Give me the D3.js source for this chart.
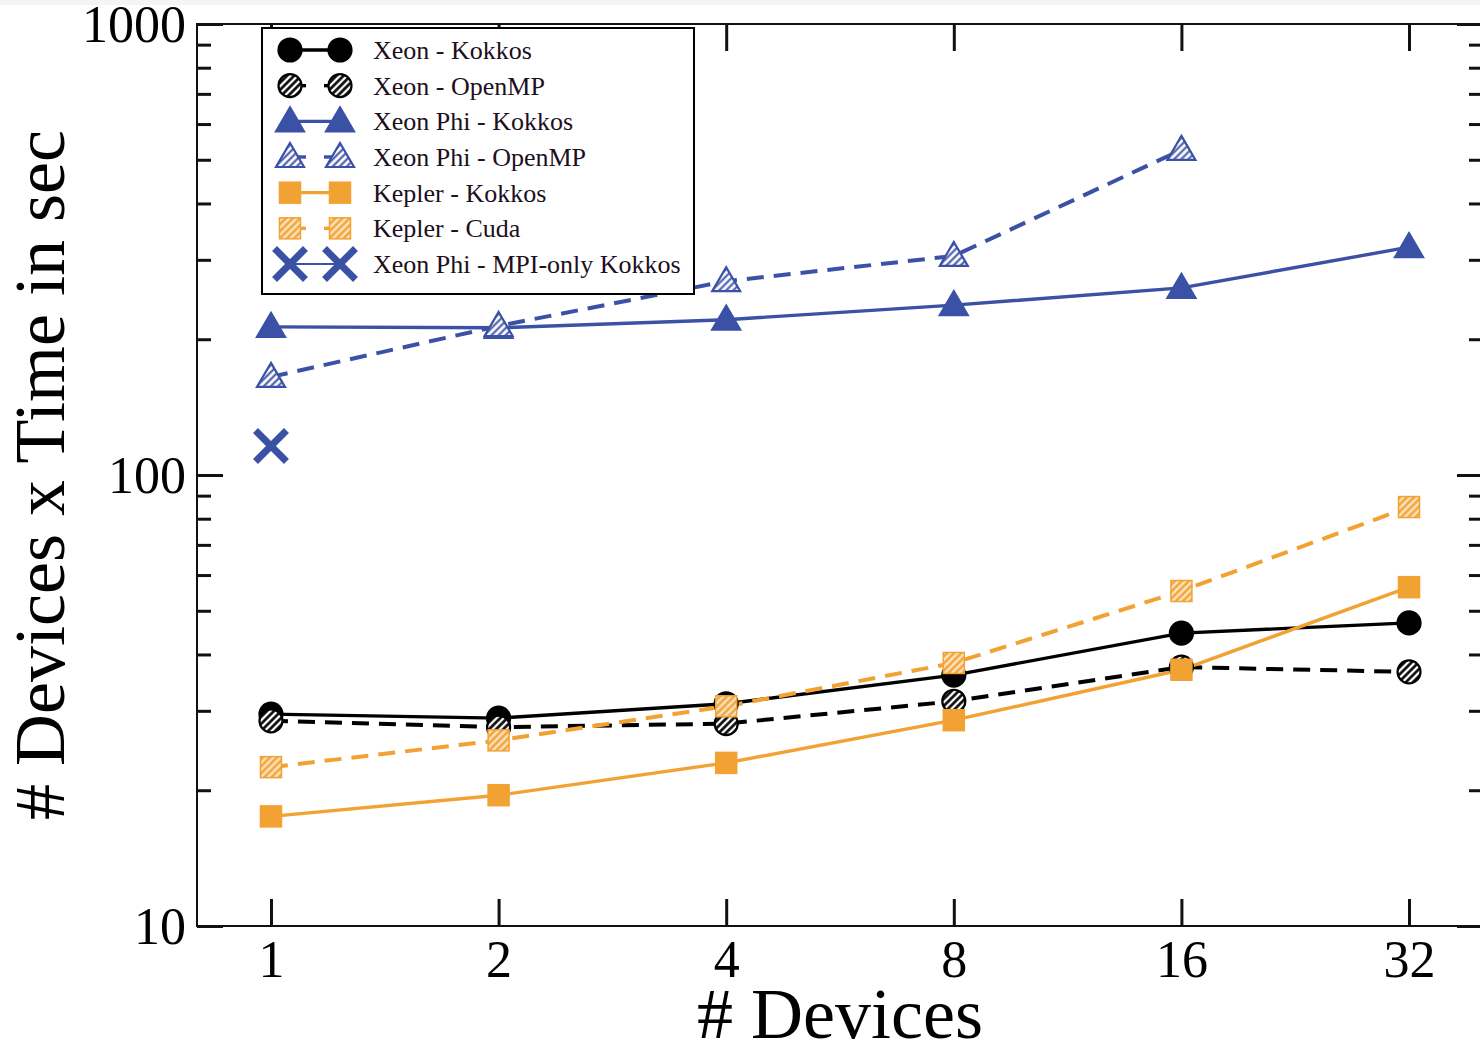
<!DOCTYPE html>
<html><head><meta charset="utf-8">
<script src="https://cdn.jsdelivr.net/npm/d3@7"></script>
<style>body{margin:0;background:#fff}svg{display:block}</style>
</head><body><svg id="c" width="1480" height="1043"></svg>
<script>
// ---- data ----
const devices = [1, 2, 4, 8, 16, 32];
const xeonKokkos   = [29.5, 28.9, 31.1, 36.0, 44.6, 47.0];
const xeonOpenMP   = [28.5, 27.6, 28.1, 31.5, 37.5, 36.6];
const phiKokkos    = [213, 212, 221, 238, 260, 320];
const phiOpenMP    = [165, 214, 269, 306, 526];
const keplerKokkos = [17.5, 19.5, 23.0, 28.6, 37.0, 56.4];
const keplerCuda   = [22.5, 25.8, 30.7, 38.3, 55.3, 84.9];
const phiMPIonly   = [116];
const yTickLabels  = [10, 100, 1000];
const seriesNames  = ["Xeon - Kokkos", "Xeon - OpenMP", "Xeon Phi - Kokkos", "Xeon Phi - OpenMP",
                      "Kepler - Kokkos", "Kepler - Cuda", "Xeon Phi - MPI-only Kokkos"];
const xAxisTitle = "# Devices";
const yAxisTitle = "# Devices x Time in sec";

const BLUE = "#3a51a6", ORANGE = "#f2a233", BLACK = "#000";
const series = [
  {name: seriesNames[0], vals: xeonKokkos,   color: BLACK,  dash: false, mk: "circle",   hatch: null},
  {name: seriesNames[1], vals: xeonOpenMP,   color: BLACK,  dash: true,  mk: "circle",   hatch: "hBlack"},
  {name: seriesNames[2], vals: phiKokkos,    color: BLUE,   dash: false, mk: "triangle", hatch: null},
  {name: seriesNames[3], vals: phiOpenMP,    color: BLUE,   dash: true,  mk: "triangle", hatch: "hBlue"},
  {name: seriesNames[4], vals: keplerKokkos, color: ORANGE, dash: false, mk: "square",   hatch: null},
  {name: seriesNames[5], vals: keplerCuda,   color: ORANGE, dash: true,  mk: "square",   hatch: "hOrange"},
  {name: seriesNames[6], vals: phiMPIonly,   color: BLUE,   dash: false, mk: "x",        hatch: null}
];

const svg = d3.select("#c");
const FONT = "'Liberation Serif', 'Times New Roman', serif";

// plot frame
const L = 197, R = 1483, T = 24, B = 926;
const x = d3.scaleLog().base(2).domain([Math.pow(2, -0.325), Math.pow(2, 5.325)]).range([L, R]);
const y = d3.scaleLog().domain([10, 1000]).range([B, T]);

// patterns
const defs = svg.append("defs");
function pat(id, bg, fg, w) {
  const p = defs.append("pattern").attr("id", id).attr("patternUnits", "userSpaceOnUse")
    .attr("width", 5).attr("height", 5).attr("patternTransform", "rotate(45)");
  p.append("rect").attr("width", 5).attr("height", 5).attr("fill", bg);
  p.append("line").attr("x1", 1.5).attr("x2", 1.5).attr("y1", 0).attr("y2", 5).attr("stroke", fg).attr("stroke-width", w);
}
pat("hBlack", "#fff", "#000", 2.6);
pat("hBlue", "#fff", BLUE, 2.0);
pat("hOrange", "#fbe3c0", ORANGE, 2.4);

svg.append("rect").attr("width", 1480).attr("height", 1043).attr("fill", "#fff");
svg.append("rect").attr("width", 1480).attr("height", 5).attr("fill", "#f3f5f7");

// axes frame
const frame = svg.append("g");
frame.append("rect").attr("x", L).attr("y", T).attr("width", R - L).attr("height", B - T)
  .attr("fill", "none").attr("stroke", "#111").attr("stroke-width", 2);

// y ticks (left & right) via d3 axes
const minorVals = y.ticks().filter(v => !yTickLabels.includes(v));
function yAxisGen(axisFn, tx, len, vals) {
  const g = svg.append("g").attr("transform", `translate(${tx},0)`)
    .call(axisFn(y).tickValues(vals).tickSize(len).tickFormat(""));
  g.select(".domain").remove();
  g.selectAll(".tick line").attr("stroke", "#111").attr("stroke-width", 3);
  return g;
}
yAxisGen(d3.axisLeft, L, -14, minorVals);
yAxisGen(d3.axisLeft, L, -26, yTickLabels);
yAxisGen(d3.axisRight, R, -14, minorVals);
yAxisGen(d3.axisRight, R, -26, yTickLabels);
// y labels
const yl = svg.append("g").attr("transform", `translate(186,0)`)
  .call(d3.axisLeft(y).tickValues(yTickLabels).tickSize(0).tickPadding(0).tickFormat(d3.format("d")));
yl.select(".domain").remove();
yl.selectAll(".tick text").attr("font-family", FONT).attr("font-size", 52).attr("fill", "#000")
  .attr("dy", "0.33em");

// x ticks bottom & top
function xAxisGen(axisFn, ty, len) {
  const g = svg.append("g").attr("transform", `translate(0,${ty})`)
    .call(axisFn(x).tickValues(devices).tickSize(len).tickFormat(""));
  g.select(".domain").remove();
  g.selectAll(".tick line").attr("stroke", "#111").attr("stroke-width", 3);
}
xAxisGen(d3.axisBottom, B, -27);
xAxisGen(d3.axisTop, T, -27);
const xl = svg.append("g").attr("transform", `translate(0,${B})`)
  .call(d3.axisBottom(x).tickValues(devices).tickSize(0).tickPadding(0).tickFormat(d3.format("d")));
xl.select(".domain").remove();
xl.selectAll(".tick text").attr("font-family", FONT).attr("font-size", 52).attr("fill", "#000")
  .attr("dy", null).attr("y", 51);

// titles
svg.append("text").attr("x", 840).attr("y", 1038).attr("text-anchor", "middle")
  .attr("font-family", FONT).attr("font-size", 72).text(xAxisTitle);
svg.append("text").attr("transform", "translate(64,475) rotate(-90)").attr("text-anchor", "middle")
  .attr("font-family", FONT).attr("font-size", 72).text(yAxisTitle);

// marker drawing
function marker(g, s, cx, cy) {
  const fill = s.hatch ? `url(#${s.hatch})` : s.color;
  if (s.mk === "circle") {
    g.append("circle").attr("cx", cx).attr("cy", cy).attr("r", 11.5).attr("fill", fill)
      .attr("stroke", s.color).attr("stroke-width", 2.2);
  } else if (s.mk === "triangle") {
    g.append("path").attr("transform", `translate(${cx},${cy})`)
      .attr("d", "M0,-14L14,10L-14,10Z").attr("fill", fill).attr("stroke", s.color).attr("stroke-width", 2.2)
      .attr("stroke-linejoin", "miter");
  } else if (s.mk === "square") {
    g.append("rect").attr("x", cx - 10.5).attr("y", cy - 10.5).attr("width", 21).attr("height", 21)
      .attr("fill", fill).attr("stroke", s.color).attr("stroke-width", 1.5);
  } else if (s.mk === "x") {
    g.append("path").attr("transform", `translate(${cx},${cy})`)
      .attr("d", "M-13,-13L13,13M-13,13L13,-13").attr("stroke", s.color).attr("stroke-width", 7)
      .attr("stroke-linecap", "square").attr("fill", "none");
  }
}

// series lines
const line = d3.line().x(d => x(d[0])).y(d => y(d[1]));
const plot = svg.append("g");
series.forEach(s => {
  const pts = s.vals.map((v, i) => [devices[i], v]);
  plot.append("path").datum(pts).attr("d", line).attr("fill", "none").attr("stroke", s.color)
    .attr("stroke-width", s.dash ? 4 : 3.4).attr("stroke-dasharray", s.dash ? "17,10" : null);
});
series.forEach(s => {
  const g = plot.append("g");
  s.vals.forEach((v, i) => marker(g, s, x(devices[i]), y(v)));
});

// legend
const lg = svg.append("g");
lg.append("rect").attr("x", 262).attr("y", 28).attr("width", 432).attr("height", 266)
  .attr("fill", "#fff").attr("stroke", "#000").attr("stroke-width", 2);
const ly = d3.scaleLinear().domain([0, 6]).range([50, 264]);
series.forEach((s, i) => {
  const cy = ly(i);
  const x1 = 290, x2 = 340;
  if (s.dash) {
    lg.append("line").attr("x1", x1).attr("x2", x1 + 16).attr("y1", cy).attr("y2", cy)
      .attr("stroke", s.color).attr("stroke-width", 3.4);
    lg.append("line").attr("x1", x2 - 16).attr("x2", x2).attr("y1", cy).attr("y2", cy)
      .attr("stroke", s.color).attr("stroke-width", 3.4);
  } else {
    lg.append("line").attr("x1", x1).attr("x2", x2).attr("y1", cy).attr("y2", cy)
      .attr("stroke", s.color).attr("stroke-width", s.mk === "x" ? 2 : 3.4);
  }
  marker(lg, s, x1, cy);
  marker(lg, s, x2, cy);
  lg.append("text").attr("x", 373).attr("y", cy + 9).attr("font-family", FONT).attr("font-size", 26)
    .attr("fill", "#1c0f1e").text(s.name);
});
</script></body></html>
